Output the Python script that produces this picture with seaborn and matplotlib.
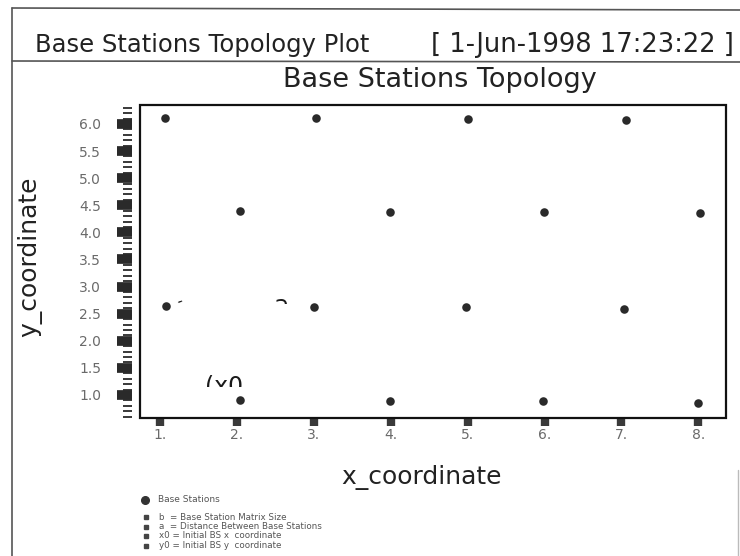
import numpy as np
import pandas as pd
import matplotlib
matplotlib.use("Agg")
import matplotlib.pyplot as plt
import seaborn as sns
from matplotlib.lines import Line2D
from matplotlib.patches import Rectangle
from matplotlib.transforms import Bbox, TransformedBbox

# ---------------- data ----------------
bs_x = [1.07, 3.03, 5.00, 7.06,
        2.04, 3.99, 5.99, 8.02,
        1.08, 3.00, 4.98, 7.03,
        2.04, 3.99, 5.98, 8.00]
bs_y = [6.11, 6.11, 6.09, 6.07,
        4.39, 4.38, 4.38, 4.36,
        2.64, 2.62, 2.62, 2.59,
        0.90, 0.89, 0.88, 0.86]
x_ticks = [1, 2, 3, 4, 5, 6, 7, 8]
x_tick_labels = ["1.", "2.", "3.", "4.", "5.", "6.", "7.", "8."]
y_ticks = [1.0, 1.5, 2.0, 2.5, 3.0, 3.5, 4.0, 4.5, 5.0, 5.5, 6.0]
y_tick_labels = ["1.0", "1.5", "2.0", "2.5", "3.0", "3.5", "4.0", "4.5", "5.0", "5.5", "6.0"]
header_left = "Base Stations Topology Plot"
header_right = "[ 1-Jun-1998 17:23:22 ]"
title = "Base Stations Topology"
x_label = "x_coordinate"
y_label = "y_coordinate"
legend_main = "Base Stations"
legend_notes = ["b  = Base Station Matrix Size",
                "a  = Distance Between Base Stations",
                "x0 = Initial BS x  coordinate",
                "y0 = Initial BS y  coordinate"]

df = pd.DataFrame({"x": bs_x, "y": bs_y})

sns.set_style("white")
plt.rcParams["font.family"] = ["DejaVu Sans"]

W, H = 740, 556
fig = plt.figure(figsize=(W / 100, H / 100), dpi=100)
fig.patch.set_facecolor("white")

def fx(px):
    return px / W

def fy(py):
    return 1 - py / H

# axes box: left 140, right 726, top 105, bottom 418 (pixels)
ax = fig.add_axes([fx(140), fy(418), (726 - 140) / W, (418 - 105) / H])
sns.scatterplot(data=df, x="x", y="y", ax=ax, s=38, color="#2a2a2a",
                edgecolor="#2a2a2a", linewidth=0, legend=False, zorder=3)

ax.set_xlim(0.74, 8.36)
ax.set_ylim(0.575, 6.35)
ax.set_xlabel("")
ax.set_ylabel("")

for s in ax.spines.values():
    s.set_visible(False)
ax.spines["left"].set_position(("outward", 6))
ax.add_patch(Rectangle((0, 0), 1, 1, transform=ax.transAxes, fill=False,
                       lw=1.6, edgecolor="#111111", clip_on=False, zorder=4))

ax.set_xticks(x_ticks)
ax.set_xticklabels(x_tick_labels)
ax.set_yticks(y_ticks)
ax.set_yticklabels(y_tick_labels)
ax.set_yticks(np.round(np.arange(0.6, 6.35, 0.1), 2), minor=True)
ax.tick_params(axis="x", which="major", direction="out", length=5.5, width=6,
               color="#3a3a3a", labelsize=10, labelcolor="#6a6a6a", pad=1.5,
               bottom=True)
ax.tick_params(axis="y", which="major", direction="out", length=11, width=7,
               color="#2a2a2a", labelsize=10, labelcolor="#6a6a6a", pad=11,
               left=True)
ax.tick_params(axis="y", which="minor", direction="out", length=6.5, width=1.3,
               color="#2a2a2a", left=True)

# partially visible annotation fragments
def clipped_text(x, y, s, ylow, size):
    t = ax.text(x, y, s, fontsize=size, color="#1a1a1a", va="top", ha="left",
                clip_on=True)
    t.set_clip_box(TransformedBbox(Bbox([[0.74, ylow], [8.36, 6.35]]), ax.transData))
    return t

clipped_text(1.58, 1.37, "(x0", 1.15, 17)
clipped_text(2.48, 2.86, "a", 2.68, 18)
ax.text(1.26, 2.73, "-", fontsize=11, color="#1a1a1a", rotation=20,
        ha="center", va="center")

# header & frame
fig.text(fx(35), fy(45), header_left, fontsize=17.5, color="#222222",
         ha="left", va="center")
fig.text(fx(734), fy(45), header_right, fontsize=18.5, color="#222222",
         ha="right", va="center")
fig.text(fx(440), fy(80), title, fontsize=19.5, color="#222222",
         ha="center", va="center")
fig.text(fx(422), fy(477), x_label, fontsize=18, color="#222222",
         ha="center", va="center")
fig.text(fx(30), fy(257), y_label, fontsize=18, color="#222222",
         ha="center", va="center", rotation=90)

fig.add_artist(Line2D([fx(12), fx(740)], [fy(8), fy(10)], color="#555555", lw=1.2))
fig.add_artist(Line2D([fx(12), fx(740)], [fy(61), fy(62)], color="#555555", lw=1.2))
fig.add_artist(Line2D([fx(12), fx(12)], [fy(8), fy(556)], color="#555555", lw=1.2))
fig.add_artist(Line2D([fx(738), fx(738)], [fy(470), fy(556)], color="#bbbbbb", lw=1.0))

# legend block
fig.add_artist(Line2D([fx(145)], [fy(500)], marker="o", markersize=5.5,
                      color="#333333", linestyle="none"))
fig.text(fx(158), fy(500), legend_main, fontsize=6.5, color="#555555",
         ha="left", va="center")
for i, note in enumerate(legend_notes):
    yy = 517 + i * 9.5
    fig.add_artist(Line2D([fx(146)], [fy(yy)], marker="s", markersize=2.2,
                          color="#444444", linestyle="none"))
    fig.text(fx(159), fy(yy), note, fontsize=6.3, color="#555555",
             ha="left", va="center")

fig.savefig("out.png", dpi=100, facecolor="white")
